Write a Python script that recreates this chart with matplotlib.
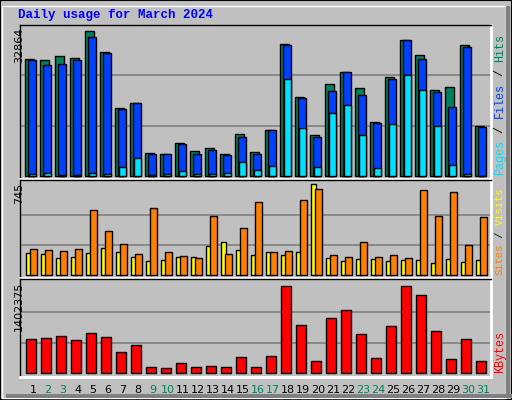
import numpy as np
import matplotlib.pyplot as plt
from matplotlib.patches import Rectangle

days = np.arange(1, 32)
weekend = [2, 3, 9, 10, 16, 17, 23, 24, 30, 31]

# values
hits = [26600, 26200, 27100, 26800, 32864, 28100, 15400, 16500, 5300, 5100,
        7400, 5600, 6300, 4900, 9600, 5400, 10500, 29900, 17900, 9200,
        20900, 23500, 20000, 12300, 22400, 30900, 27500, 19500, 20200, 29600, 11400]
files = [26400, 25200, 25400, 26400, 31500, 28000, 15100, 16500, 5100, 4900,
         7200, 5100, 6000, 4700, 8900, 5100, 10500, 29600, 17700, 8900,
         19300, 23500, 18400, 12100, 22100, 30900, 26600, 19000, 15600, 29300, 11200]
pages = [400, 700, 200, 200, 700, 400, 2000, 4000, 200, 400,
         1100, 400, 400, 700, 3300, 1300, 2200, 21900, 11000, 2000,
         14300, 16100, 9200, 1800, 11800, 23000, 19500, 11400, 2500, 400, 0]
visits = [179, 171, 138, 146, 179, 219, 187, 146, 113, 121,
          146, 146, 235, 267, 202, 162, 187, 162, 187, 745,
          138, 113, 130, 130, 113, 121, 121, 97, 130, 105, 121]
sites = [210, 202, 194, 210, 534, 364, 251, 170, 550, 186,
         154, 138, 486, 170, 389, 599, 186, 194, 615, 705,
         162, 146, 267, 146, 162, 138, 697, 486, 680, 243, 478]
kbytes = [557000, 572000, 603000, 527000, 649000, 588000, 343000, 450000, 97000, 82000,
          174000, 97000, 113000, 97000, 266000, 97000, 281000, 1402375, 773000, 205000,
          880000, 1018000, 634000, 251000, 757000, 1402375, 1249000, 680000, 235000, 557000, 205000]

W, H = 512, 400
fig = plt.figure(figsize=(W / 100, H / 100), dpi=100, facecolor='#c0c0c0')
mono = ['Liberation Mono', 'DejaVu Sans Mono']
X0, X1 = 0.5, 31.9

# outer 3D frame
fig.patches.append(Rectangle((0, 0), 1, 1, transform=fig.transFigure, fill=False,
                             edgecolor='black', lw=1.5))
fig.patches.append(Rectangle((2 / W, 2 / H), (W - 8) / W, (H - 8) / H, transform=fig.transFigure,
                             fill=False, edgecolor='white', lw=1))
fig.patches.append(Rectangle((6 / W, 2 / H), (W - 6) / W, 4 / H, transform=fig.transFigure,
                             facecolor='#808080', edgecolor='none'))
fig.patches.append(Rectangle(((W - 6) / W, 2 / H), 4 / W, (H - 8) / H, transform=fig.transFigure,
                             facecolor='#808080', edgecolor='none'))


def mkax(top, bottom):
    ax = fig.add_axes([20 / W, 1 - bottom / H, 471 / W, (bottom - top) / H])
    ax.set_facecolor('#c0c0c0')
    ax.set_xlim(X0, X1)
    ax.set_xticks([])
    ax.set_yticks([])
    for s in ax.spines.values():
        s.set_color('black')
        s.set_linewidth(1)
    ax.spines['bottom'].set_color('white')
    ax.spines['right'].set_color('white')
    ax.spines['bottom'].set_linewidth(2)
    ax.spines['right'].set_linewidth(2)
    return ax


ax1 = mkax(25, 179)
ax2 = mkax(180, 278)
ax3 = mkax(279, 377)

kw = dict(align='edge', edgecolor='black', linewidth=1, zorder=3)

ax1.set_ylim(-32864 * 0.02, 32864 / 0.96)
for f in (1 / 3, 2 / 3):
    ax1.axhline(32864 / 0.96 * f, color='#808080', lw=1.2, zorder=1)
ax1.bar(days - 0.15, hits, 0.6, color='#00805c', **kw)
ax1.bar(days + 0.0, files, 0.55, color='#0040ff', **kw)
ax1.bar(days + 0.12, pages, 0.45, color='#00e0ff', **kw)

ax2.set_ylim(-745 * 0.03, 745 / 0.96)
for f in (1 / 3, 2 / 3):
    ax2.axhline(745 / 0.96 * f * 0.95, color='#808080', lw=1.2, zorder=1)
ax2.bar(days - 0.1, visits, 0.3, color='#ffff00', **kw)
ax2.bar(days + 0.15, sites, 0.46, color='#ff8000', **kw)

ax3.set_ylim(-1402375 * 0.04, 1402375 / 0.93)
for f in (1 / 3, 2 / 3):
    ax3.axhline(1402375 / 0.93 * f * 0.98, color='#808080', lw=1.2, zorder=1)
ax3.bar(days - 0.1, kbytes, 0.66, color='#ff0000', **kw)

# day labels
for d in days:
    fig.text((20 + (d + 0.37 - X0) * 471 / (X1 - X0)) / W, 1 - 390 / H, str(d),
             ha='center', va='center', fontsize=8, family=['DejaVu Sans'],
             color='#00805c' if d in weekend else 'black')

fig.text(18 / W, 1 - 15 / H, 'Daily usage for March 2024', fontsize=9, fontweight='bold',
         family=mono, color='#0000ff', va='center', ha='left')

for y, lab in ((28, '32864'), (183, '745'), (282, '1402375')):
    fig.text(14 / W, 1 - y / H, lab, rotation=90, fontsize=8, family=['DejaVu Sans'],
             ha='left', va='top')


def side(ybot, parts, fs):
    y = ybot
    step = 0.6 * fs * 100 / 72
    for txt, col in parts:
        fig.text(500 / W, 1 - y / H, txt, rotation=90, fontsize=fs, family=mono,
                 color=col, ha='center', va='bottom')
        y -= len(txt) * step


side(175, [('Pages', '#00e0ff'), (' / ', 'black'), ('Files', '#0040ff'),
           (' / ', 'black'), ('Hits', '#00805c')], 8.5)
side(275, [('Sites', '#ff8000'), (' / ', 'black'), ('Visits', '#ffff00')], 7.5)
side(373, [('KBytes', '#ff0000')], 8.5)

fig.savefig('out.png', dpi=100, facecolor=fig.get_facecolor())
